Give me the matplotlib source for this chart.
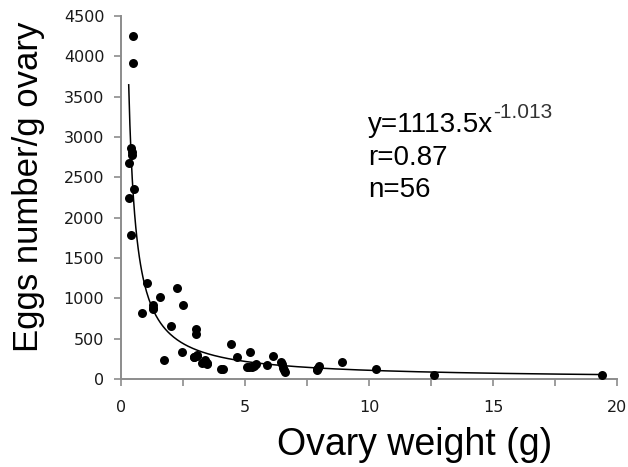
import numpy as np
import matplotlib
matplotlib.use('Agg')
import matplotlib.pyplot as plt

# ovary weight (g) and eggs number per g ovary
ovary_weight = [0.50, 0.50, 0.39, 0.46, 0.31, 0.51, 0.33, 0.39,
                1.06, 2.27, 1.56, 1.28, 1.30, 2.51, 0.86, 2.02,
                3.01, 3.01, 4.42, 2.45, 1.73, 2.94, 3.08, 3.25,
                3.48, 3.37, 4.05, 4.66, 5.20, 5.07, 5.28, 5.45,
                5.88, 6.11, 6.46, 6.54, 6.60, 7.89, 7.98, 7.95,
                8.91, 10.27, 12.62, 19.38,
                0.45, 3.35, 5.35, 6.50, 7.92, 3.05, 2.95, 5.15,
                6.58, 3.45, 4.10, 1.30]
eggs_per_g = [4250, 3920, 2870, 2780, 2680, 2360, 2250, 1780,
              1195, 1125, 1013, 920, 862, 918, 822, 657,
              616, 558, 432, 331, 240, 277, 300, 200,
              186, 230, 126, 269, 333, 147, 147, 190,
              168, 285, 205, 140, 85, 112, 163, 135,
              207, 124, 54, 54,
              2820, 210, 160, 180, 125, 290, 270, 150,
              110, 195, 130, 885]

# power trendline printed on the chart
fit_a = 1113.5
fit_b = -1.013

x_ticks = np.arange(0, 20.1, 2.5)
x_labels = ['0', '', '5', '', '10', '', '15', '', '20']
y_ticks = np.arange(0, 4501, 500)

fig = plt.figure(figsize=(6.28, 4.67), dpi=100)
ax = fig.add_axes([0.1927, 0.1884, 0.7898, 0.7773])

xs = np.linspace(min(ovary_weight), max(ovary_weight), 400)
ax.plot(xs, fit_a * xs ** fit_b, color='black', lw=1.1, zorder=2)
ax.scatter(ovary_weight, eggs_per_g, s=42, color='black', zorder=3, linewidths=0)

ax.set_xlim(0, 20)
ax.set_ylim(0, 4500)
ax.set_xticks(x_ticks)
ax.set_xticklabels(x_labels)
ax.set_yticks(y_ticks)

for s in ['top', 'right']:
    ax.spines[s].set_visible(False)
for s in ['left', 'bottom']:
    ax.spines[s].set_color('#8c8c8c')
    ax.spines[s].set_linewidth(1.4)

ax.tick_params(axis='both', direction='out', length=5, width=1.2,
               color='#8c8c8c', labelcolor='#1a1a1a', labelsize=11.5)
ax.tick_params(axis='x', pad=10)
ax.tick_params(axis='y', pad=7)

fig.text(0.045, 0.600, 'Eggs number/g ovary', rotation=90, ha='center', va='center',
         fontsize=25, family='Liberation Sans')
fig.text(0.660, 0.047, 'Ovary weight (g)', ha='center', va='center',
         fontsize=27, family='Liberation Sans')

t1 = ax.text(0.498, 0.70, 'y=1113.5x', transform=ax.transAxes, ha='left', va='center',
             fontsize=20, family='Liberation Sans')
ax.annotate('-1.013', xy=(1.0, 0.60), xycoords=t1, ha='left', va='bottom',
            fontsize=15, family='Liberation Sans', color='#333333')
ax.text(0.498, 0.609, 'r=0.87', transform=ax.transAxes, ha='left', va='center',
        fontsize=20, family='Liberation Sans')
ax.text(0.498, 0.521, 'n=56', transform=ax.transAxes, ha='left', va='center',
        fontsize=20, family='Liberation Sans')

plt.savefig('out.png', dpi=100)
plt.close()
